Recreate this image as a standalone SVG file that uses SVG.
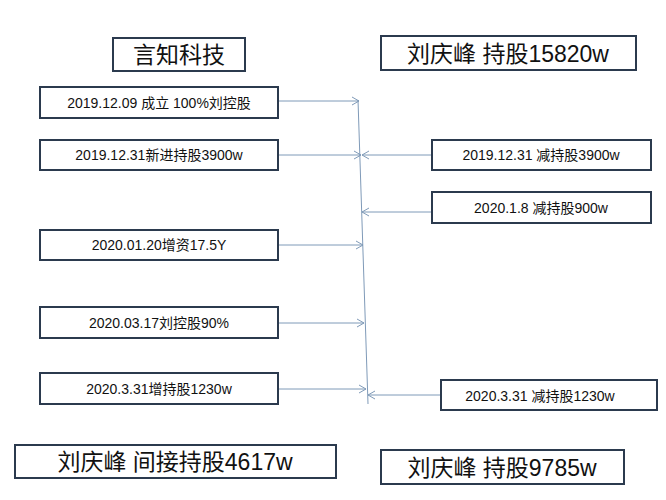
<svg xmlns="http://www.w3.org/2000/svg" width="666" height="500" viewBox="0 0 666 500">
<style>
.b{fill:#fff;stroke:#2b3a4e;stroke-width:2}
.t{font-family:"Liberation Sans","Noto Sans CJK SC",sans-serif;fill:#111;text-anchor:middle}
.s{font-size:14px}
.l{font-size:23px}
.c{stroke:#7f9ab8;stroke-width:1;fill:none}
</style>
<defs><marker id="a" markerWidth="10" markerHeight="10" refX="8" refY="5" orient="auto" markerUnits="userSpaceOnUse"><path d="M1,1 L8,5 L1,9" fill="none" stroke="#7f9ab8" stroke-width="1"/></marker></defs>
<rect width="666" height="500" fill="#fff"/>
<g id="connectors">
<path class="c" d="M358,100 L368,404"/>
<path class="c" d="M278,101 L359,101" marker-end="url(#a)"/>
<path class="c" d="M278,155 L361,155" marker-end="url(#a)"/>
<path class="c" d="M432,155 L362,155" marker-end="url(#a)"/>
<path class="c" d="M432,212 L362,212" marker-end="url(#a)"/>
<path class="c" d="M278,245 L363,245" marker-end="url(#a)"/>
<path class="c" d="M278,323 L364,323" marker-end="url(#a)"/>
<path class="c" d="M278,389 L366,389" marker-end="url(#a)"/>
<path class="c" d="M441,395 L368,395" marker-end="url(#a)"/>
</g>
<g id="n1"><rect class="b" x="113" y="38" width="132" height="33"/><text class="t l" x="179" y="63">言知科技</text></g>
<g id="n2"><rect class="b" x="381" y="36" width="255" height="34"/><text class="t l" x="508" y="62">刘庆峰 持股15820w</text></g>
<g id="n3"><rect class="b" x="40" y="87" width="238" height="31"/><text class="t s" x="159" y="108">2019.12.09 成立 100%刘控股</text></g>
<g id="n4"><rect class="b" x="40" y="140" width="238" height="30"/><text class="t s" x="159" y="160">2019.12.31新进持股3900w</text></g>
<g id="n5"><rect class="b" x="432" y="140" width="219" height="30"/><text class="t s" x="541" y="160">2019.12.31 减持股3900w</text></g>
<g id="n6"><rect class="b" x="432" y="192" width="219" height="31"/><text class="t s" x="541" y="213">2020.1.8 减持股900w</text></g>
<g id="n7"><rect class="b" x="40" y="230" width="238" height="30"/><text class="t s" x="159" y="250">2020.01.20增资17.5Y</text></g>
<g id="n8"><rect class="b" x="40" y="307" width="238" height="31"/><text class="t s" x="159" y="328">2020.03.17刘控股90%</text></g>
<g id="n9"><rect class="b" x="40" y="373" width="238" height="31"/><text class="t s" x="159" y="394">2020.3.31增持股1230w</text></g>
<g id="n10"><rect class="b" x="441" y="380" width="216" height="30"/><text class="t s" x="540" y="401">2020.3.31 减持股1230w</text></g>
<g id="n11"><rect class="b" x="15" y="445" width="321" height="33"/><text class="t l" x="175" y="470">刘庆峰 间接持股4617w</text></g>
<g id="n12"><rect class="b" x="381" y="450" width="243" height="34"/><text class="t l" x="502" y="476">刘庆峰 持股9785w</text></g>
</svg>
